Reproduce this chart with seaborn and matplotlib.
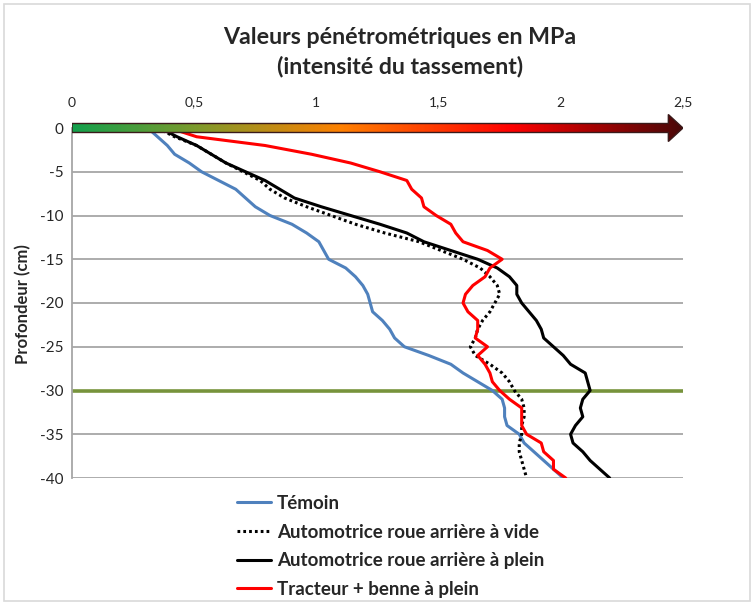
import numpy as np
import pandas as pd
import seaborn as sns
import matplotlib.pyplot as plt
from matplotlib.colors import LinearSegmentedColormap
from matplotlib.patches import Polygon, Rectangle

# profondeur (cm) de 0 à -40
profondeur = list(range(0, -41, -1))

temoin = [0.31, 0.35, 0.39, 0.42, 0.48, 0.53, 0.60, 0.67, 0.71, 0.75,
          0.81, 0.90, 0.96, 1.01, 1.03, 1.05, 1.12, 1.16, 1.19, 1.21,
          1.22, 1.23, 1.27, 1.30, 1.32, 1.36, 1.46, 1.55, 1.60, 1.66,
          1.72, 1.76, 1.77, 1.77, 1.78, 1.83, 1.85, 1.89, 1.93, 1.97, 2.01]

auto_vide = [0.35, 0.42, 0.51, 0.57, 0.63, 0.70, 0.77, 0.81, 0.87, 0.96,
             1.06, 1.16, 1.28, 1.42, 1.51, 1.60, 1.67, 1.71, 1.74, 1.75,
             1.73, 1.71, 1.68, 1.66, 1.65, 1.63, 1.65, 1.71, 1.76, 1.79,
             1.81, 1.84, 1.85, 1.85, 1.84, 1.84, 1.83, 1.83, 1.84, 1.85, 1.86]

auto_plein = [0.36, 0.43, 0.51, 0.57, 0.63, 0.71, 0.79, 0.85, 0.91, 1.02,
              1.14, 1.26, 1.37, 1.44, 1.55, 1.66, 1.74, 1.79, 1.82, 1.82,
              1.84, 1.87, 1.90, 1.92, 1.93, 1.97, 2.01, 2.04, 2.10, 2.11,
              2.12, 2.09, 2.08, 2.09, 2.06, 2.04, 2.05, 2.09, 2.12, 2.16, 2.20]

tracteur = [0.40, 0.51, 0.79, 0.98, 1.14, 1.26, 1.37, 1.39, 1.43, 1.44,
            1.49, 1.55, 1.57, 1.60, 1.70, 1.76, 1.71, 1.69, 1.64, 1.61,
            1.60, 1.62, 1.66, 1.66, 1.65, 1.70, 1.66, 1.69, 1.71, 1.72,
            1.75, 1.79, 1.84, 1.84, 1.84, 1.86, 1.92, 1.93, 1.97, 1.97, 2.02]

series = ["Témoin", "Automotrice roue arrière à vide",
          "Automotrice roue arrière à plein", "Tracteur + benne à plein"]
couleurs = ["#4f81bd", "black", "black", "#ff0000"]

xticks = [0, 0.5, 1, 1.5, 2, 2.5]
xlabels = ["0", "0,5", "1", "1,5", "2", "2,5"]
yticks = [0, -5, -10, -15, -20, -25, -30, -35, -40]

sns.set_style("white")
plt.rcParams["font.family"] = ["Lato", "DejaVu Sans"]

df = pd.DataFrame({
    "valeur": temoin + auto_vide + auto_plein + tracteur,
    "profondeur": profondeur * 4,
    "serie": [s for s in series for _ in profondeur],
})

W, H = 754, 605
fig = plt.figure(figsize=(7.54, 6.05), dpi=100)
ax = fig.add_axes([72 / W, 1 - 478 / H, (683 - 72) / W, (478 - 128) / H])

sns.lineplot(data=df, x="valeur", y="profondeur", hue="serie", style="serie",
             palette=dict(zip(series, couleurs)),
             dashes={series[0]: "", series[1]: (0.9, 1.0), series[2]: "", series[3]: ""},
             orient="y", estimator=None, sort=False, linewidth=2.2, ax=ax)

ax.set_xlim(0, 2.5)
ax.set_ylim(-40, 0)
ax.xaxis.tick_top()
ax.set_xticks(xticks)
ax.set_xticklabels(xlabels, fontsize=10)
ax.set_yticks(yticks)
ax.set_yticklabels([str(v) for v in yticks], fontsize=11)
ax.tick_params(length=0, pad=6)
ax.tick_params(axis="x", pad=14)
ax.set_xlabel("")
ax.set_ylabel("")
for y in yticks[1:]:
    ax.axhline(y, color="#a6a6a6", lw=1.3, zorder=0)
ax.axhline(-30, color="#77933c", lw=2.6, zorder=1)
for s in ["top", "right", "bottom"]:
    ax.spines[s].set_visible(False)
ax.spines["left"].set_color("#a6a6a6")
ax.spines["left"].set_linewidth(1.3)

# légende en bas
handles, labels = ax.get_legend_handles_labels()
ax.legend(handles, labels, loc="upper left", bbox_to_anchor=(220 / W, 1 - 478 / H),
          bbox_transform=fig.transFigure, frameon=False, handlelength=1.8,
          handletextpad=0.35, labelspacing=0.62, prop={"weight": "bold", "size": 13.5})

# flèche dégradée (intensité)
ax2 = fig.add_axes([72 / W, 1 - 148 / H, (683 - 72) / W, 40 / H])
ax2.set_xlim(0, 2.5)
ax2.set_ylim(-20, 20)
ax2.axis("off")
cmap = LinearSegmentedColormap.from_list("tass", [
    (0.0, "#14a04c"), (0.2, "#7d9a2c"), (0.44, "#ff8000"),
    (0.72, "#ff0000"), (0.84, "#b00000"), (1.0, "#4a0808")])
grad = np.linspace(0, 1, 400).reshape(1, -1)
fleche = [(0, 4.5), (2.44, 4.5), (2.44, 13.5), (2.5, 0), (2.44, -13.5),
          (2.44, -4.5), (0, -4.5)]
poly = Polygon(fleche, closed=True, facecolor="none", edgecolor="#3a1a1a", lw=1.0)
ax2.add_patch(poly)
im = ax2.imshow(grad, cmap=cmap, aspect="auto", extent=(0, 2.5, -14, 14))
im.set_clip_path(poly)

fig.text(400 / W, 1 - 52 / H, "Valeurs pénétrométriques en MPa\n(intensité du tassement)",
         ha="center", va="center", fontsize=16.7, fontweight="bold", linespacing=1.4)
fig.text(23 / W, 1 - 304 / H, "Profondeur (cm)", rotation=90, ha="center", va="center",
         fontsize=12, fontweight="bold")

fig.patches.append(Rectangle((4 / W, 4 / H), 1 - 8 / W, 1 - 8 / H, transform=fig.transFigure,
                             fill=False, edgecolor="#d9d9d9", lw=1.2))

fig.savefig("out.png", dpi=100)
